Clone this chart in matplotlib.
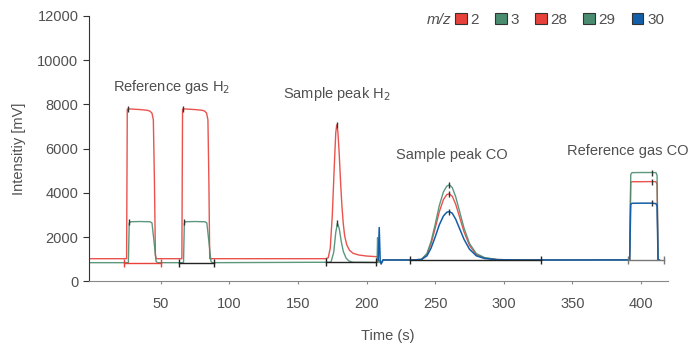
import matplotlib
matplotlib.use("Agg")
import matplotlib.pyplot as plt
from matplotlib.patches import Patch

plt.rcParams['font.family'] = ['Liberation Sans', 'DejaVu Sans']

RED = "#e8403a"
GREEN = "#4a8c70"
BLUE = "#135ea8"
TXT = "#505050"

# m/z 2 (hydrogen, red)
t_mz2 = [-3, 25.0, 25.5, 27, 35, 40, 42, 43.5, 44.5, 45.3, 46.0, 46.5, 65.3, 65.8, 67, 75, 80, 82,
         83.3, 84.3, 85.0, 85.6, 170, 172, 173.5, 175, 176.5, 177.5, 178.2, 179, 180, 181, 182,
         183, 184, 185.5, 187.5, 190, 194, 200, 207.5]
v_mz2 = [1020, 1020, 7780, 7790, 7760, 7730, 7690, 7600, 7300, 4500, 1200, 1020, 1020, 7780, 7790,
         7760, 7730, 7690, 7600, 7300, 4500, 1020, 1020, 1060, 1500, 3000, 5300, 6700, 7070, 6800,
         5800, 4500, 3400, 2600, 2050, 1650, 1400, 1270, 1190, 1140, 1110]

# m/z 3 (HD, green)
t_mz3 = [-3, 26.3, 26.9, 28, 35, 42, 43.5, 45.0, 46.5, 47.5, 66.5, 67.1, 68, 75, 82, 83.5, 85.0,
         86.5, 87.5, 174, 176, 177.5, 178.7, 180, 181.5, 183, 185, 187, 190, 207.6, 208.0, 208.4]
v_mz3 = [840, 840, 2620, 2690, 2700, 2690, 2640, 1800, 900, 840, 840, 2620, 2690, 2700, 2690, 2640,
         1800, 900, 840, 860, 1300, 2200, 2620, 2400, 1800, 1350, 1050, 920, 860, 850, 1970, 850]

# CO traces: m/z 28 (red), 29 (green), 30 (blue)
t_co = [208.6, 210.5, 212, 232, 240, 244, 247, 250, 253, 256, 258.5, 260.4, 262.5, 265, 268, 271,
        275, 280, 286, 295, 310, 327, 391.8, 392.6, 393.5, 400, 408, 411, 411.8, 412.5, 413.5]
v_mz28 = [960, 800, 960, 960, 987, 1220, 1700, 2390, 3140, 3690, 3920, 3950, 3840, 3470, 2860, 2240,
          1620, 1200, 1050, 980, 963, 960, 965, 4470, 4500, 4500, 4505, 4500, 4380, 965, 960]
v_mz29 = [960, 800, 960, 960, 991, 1255, 1800, 2570, 3420, 4040, 4300, 4360, 4230, 3810, 3110, 2410,
          1710, 1250, 1070, 984, 963, 960, 965, 4820, 4910, 4915, 4915, 4910, 4780, 965, 960]
t_mz30 = [208.5, 209.2, 209.9, 210.6, 212] + t_co[3:]
v_mz30 = [960, 2430, 960, 780, 965, 960, 980, 1150, 1500, 2000, 2550, 2950, 3120, 3150, 3070, 2800,
          2350, 1900, 1450, 1150, 1030, 975, 962, 960, 965, 3470, 3525, 3530, 3530, 3510, 3400, 965, 960]

# integration ranges (start, end, level, colour)
integ_ranges = [(23, 50, 840, RED), (63, 88.5, 840, "#222222"), (170.4, 206.7, 850, "#222222"),
                (232, 327, 955, "#222222"), (390.6, 416.7, 955, "#777777")]
# peak / plateau marks
mark_t = [25.8, 26.9, 66.1, 67.1, 178.2, 178.7, 260.4, 260.4, 260.4, 408.4, 408.4, 408.4]
mark_v = [7790, 2690, 7790, 2690, 7070, 2620, 4360, 3950, 3150, 4915, 4505, 3530]

labels = ["2", "3", "28", "29", "30"]
colors = [RED, GREEN, RED, GREEN, BLUE]

fig = plt.figure(figsize=(6.89, 3.43), dpi=100)
ax = fig.add_axes([0.129, 0.180, 0.841, 0.774])

ax.plot(t_mz2, v_mz2, color=RED, lw=1.0, alpha=0.9)
ax.plot(t_mz3, v_mz3, color=GREEN, lw=1.0, alpha=0.9)
ax.plot(t_co, v_mz28, color=RED, lw=1.0, alpha=0.9)
ax.plot(t_co, v_mz29, color=GREEN, lw=1.0, alpha=0.9)
ax.plot(t_mz30, v_mz30, color=BLUE, lw=1.1)

for t0, t1, lev, c in integ_ranges:
    ax.plot([t0, t1], [lev, lev], color=c, lw=1.0, marker="|", ms=6, mew=1.0)
ax.plot(mark_t, mark_v, ls="none", marker="|", ms=4, color="#333333", mew=1.0)

ax.set_xlim(-2.5, 420)
ax.set_ylim(0, 12000)
ax.set_xticks([50, 100, 150, 200, 250, 300, 350, 400])
ax.set_yticks(range(0, 12001, 2000))
for s in ["top", "right"]:
    ax.spines[s].set_visible(False)
ax.spines["left"].set_color("#333333")
ax.spines["bottom"].set_color("#888888")
ax.tick_params(axis="y", colors="#333333", labelcolor=TXT, labelsize=10.5, length=4)
ax.tick_params(axis="x", colors="#888888", labelcolor=TXT, labelsize=10.5, length=2.5, pad=8.5)
ax.set_xlabel("Time (s)", color=TXT, fontsize=10.5, labelpad=13, x=0.516)
ax.set_ylabel("Intensitiy [mV]", color=TXT, fontsize=10.5, labelpad=8)

ax.text(57.7, 8780, "Reference gas H$_2$", ha="center", va="center", color=TXT, fontsize=10.5)
ax.text(178.5, 8470, "Sample peak H$_2$", ha="center", va="center", color=TXT, fontsize=10.5)
ax.text(262, 5700, "Sample peak CO", ha="center", va="center", color=TXT, fontsize=10.5)
ax.text(390.5, 5910, "Reference gas CO", ha="center", va="center", color=TXT, fontsize=10.5)

handles = [Patch(facecolor=c, edgecolor="#333333", lw=0.8) for c in colors]
fig.text(0.655, 0.943, "m/z", style="italic", color=TXT, fontsize=11, ha="right", va="center")
fig.legend(handles, labels, ncol=5, loc="center left", bbox_to_anchor=(0.661, 0.943),
           frameon=False, handlelength=0.75, handleheight=0.75, handletextpad=0.25,
           columnspacing=1.05, borderpad=0, borderaxespad=0, fontsize=11, labelcolor=TXT)

fig.savefig("out.png", dpi=100)
